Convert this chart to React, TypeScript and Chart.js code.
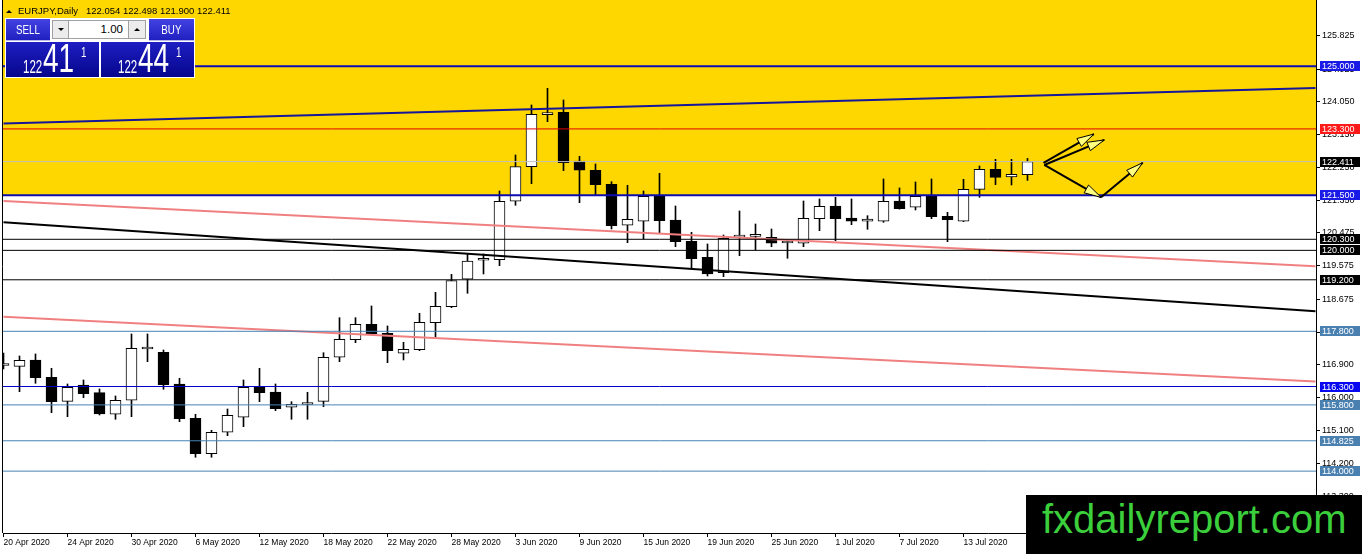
import { useEffect, useRef } from "react";
import { Chart, registerables } from "chart.js";

Chart.register(...registerables);

// ---------------- data ----------------
const openP = [
  116.87, 116.849, 117.021, 116.551, 115.898, 116.341, 116.132, 115.545, 115.926, 117.32,
  117.23, 116.368, 115.436, 114.474, 115.056, 115.464, 116.279, 116.151, 115.735, 115.81,
  115.898, 117.094, 117.572, 117.991, 117.746, 117.203, 117.301, 118.034, 118.469, 119.214,
  119.73, 119.746, 121.333, 122.273, 123.69, 123.752, 122.428, 122.176, 121.795, 120.681,
  120.79, 121.477, 120.825, 120.246, 119.811, 119.393, 120.36, 120.38, 120.355, 120.2,
  120.192, 120.86, 121.205, 120.879, 120.79, 120.79, 121.341, 121.17, 121.469, 120.926,
  120.79, 121.659, 122.203, 121.993, 122.054,
];
const highP = [
  117.211, 117.129, 117.184, 116.795, 116.368, 116.477, 116.233, 116.042, 117.727, 117.727,
  117.292, 116.523, 115.545, 115.11, 115.689, 116.477, 116.795, 116.368, 115.887, 116.143,
  117.219, 118.17, 118.17, 118.488, 117.945, 117.502, 118.29, 118.86, 119.349, 119.901,
  119.901, 121.613, 122.591, 123.95, 124.404, 124.086, 122.556, 122.347, 121.866, 121.768,
  121.613, 122.094, 121.205, 120.491, 120.173, 120.417, 121.07, 120.716, 120.58, 120.282,
  121.341, 121.396, 121.442, 121.396, 120.942, 121.939, 121.695, 121.858, 121.939, 121.034,
  121.931, 122.292, 122.474, 122.474, 122.498,
];
const lowP = [
  116.776, 116.159, 116.387, 115.589, 115.48, 115.996, 115.526, 115.409, 115.48, 116.974,
  116.224, 115.344, 114.377, 114.377, 114.964, 115.208, 115.887, 115.643, 115.409, 115.409,
  115.752, 116.974, 117.491, 117.735, 116.947, 117.021, 117.273, 117.654, 118.442, 118.833,
  119.358, 119.583, 121.224, 121.811, 123.496, 122.165, 121.295, 121.512, 120.58, 120.208,
  120.309, 120.48, 120.099, 119.512, 119.303, 119.284, 119.855, 120.01, 120.099, 119.784,
  120.099, 120.534, 120.262, 120.697, 120.572, 120.762, 121.12, 121.097, 120.86, 120.235,
  120.78, 121.442, 121.784, 121.776, 121.9,
];
const closeP = [
  116.89, 117.012, 116.54, 115.887, 116.279, 116.105, 115.553, 115.926, 117.339, 117.335,
  116.349, 115.426, 114.474, 115.056, 115.518, 116.279, 116.132, 115.697, 115.817, 115.82,
  117.094, 117.583, 117.991, 117.735, 117.273, 117.311, 118.045, 118.48, 119.176, 119.711,
  119.745, 121.333, 122.273, 123.697, 123.7, 122.382, 122.176, 121.784, 120.67, 120.844,
  121.469, 120.806, 120.235, 119.773, 119.358, 120.328, 120.38, 120.4, 120.192, 120.21,
  120.871, 121.197, 120.86, 120.79, 120.852, 121.333, 121.132, 121.469, 120.915, 120.833,
  121.659, 122.203, 121.985, 122.067, 122.411,
];

const dateTickIdx = [0, 4, 8, 12, 16, 20, 24, 28, 32, 36, 40, 44, 48, 52, 56, 60, 64];
const dateTickLabels = [
  "20 Apr 2020", "24 Apr 2020", "30 Apr 2020", "6 May 2020", "12 May 2020", "18 May 2020",
  "22 May 2020", "28 May 2020", "3 Jun 2020", "9 Jun 2020", "15 Jun 2020", "19 Jun 2020",
  "25 Jun 2020", "1 Jul 2020", "7 Jul 2020", "13 Jul 2020", "17 Jul 2020",
];
const priceTicks = [
  125.825, 124.925, 124.05, 123.15, 122.25, 121.35, 120.475, 119.575, 118.675, 117.775,
  116.9, 116.0, 115.1, 114.2, 113.3,
];

const levelPrices = [125.0, 123.3, 122.411, 121.5, 120.3, 120.0, 119.2, 117.8, 116.3, 115.8, 114.825, 114.0];
const levelKinds = ["blueBold", "red", "bid", "blueBold", "black", "black", "black", "steel", "blue", "steel", "steel", "steel"];

const trendKinds = ["channel", "trend", "pink", "pink"];
const trendX0 = [0, 0, 0, 0];
const trendY0 = [123.45, 120.762, 121.341, 118.195];
const trendX1 = [82, 82, 82, 82];
const trendY1 = [124.412, 118.347, 119.57, 116.436];

const arrowX0 = [65.0, 65.05, 65.05, 68.6];
const arrowY0 = [122.38, 122.32, 122.32, 121.44];
const arrowX1 = [68.15, 68.8, 68.6, 71.2];
const arrowY1 = [123.16, 123.0, 121.44, 122.38];

const zoneLow = 121.5;
const zoneHigh = 127.5;

const symbolTitle = "EURJPY,Daily";
const titleOHLC = "122.054 122.498 121.900 122.411";
const lotSize = "1.00";
const sellQuote = ["122", "41", "1"];
const buyQuote = ["122", "44", "1"];
const watermark = "fxdailyreport.com";

// ---------------- styles ----------------
const FONT = '"Liberation Sans", Arial, sans-serif';
const X_MIN = -1 / 32;
const X_MAX = 1313 / 16 - 1 / 32;
const Y_MAX = 126.803;
const Y_MIN = 112.319;

const levelStyle: Record<string, { line: string; width: number; label: string }> = {
  blueBold: { line: "#0c0cb0", width: 2, label: "#1a1ae6" },
  blue: { line: "#0000c8", width: 1, label: "#0808f0" },
  red: { line: "#e00000", width: 1, label: "#ff1a1a" },
  bid: { line: "#c0c0c0", width: 1, label: "#000000" },
  black: { line: "#000000", width: 1, label: "#000000" },
  steel: { line: "#4682b4", width: 1, label: "#4a80b0" },
};
const trendStyle: Record<string, { color: string; width: number }> = {
  channel: { color: "#16169a", width: 2 },
  trend: { color: "#000000", width: 2 },
  pink: { color: "#f08080", width: 2 },
};

const overlayPlugin = {
  id: "overlay",
  afterDatasetsDraw(chart: any) {
    const { ctx, scales } = chart;
    const xs = scales.x;
    const ys = scales.y;
    ctx.save();
    for (let k = 0; k < arrowX0.length; k++) {
      const sx = xs.getPixelForValue(arrowX0[k]);
      const sy = ys.getPixelForValue(arrowY0[k]);
      const ex = xs.getPixelForValue(arrowX1[k]);
      const ey = ys.getPixelForValue(arrowY1[k]);
      const len = Math.hypot(ex - sx, ey - sy) || 1;
      const ux = (ex - sx) / len;
      const uy = (ey - sy) / len;
      const L = 17;
      const W = 4.5;
      const bx = ex - ux * L;
      const by = ey - uy * L;
      ctx.beginPath();
      ctx.moveTo(ex, ey);
      ctx.lineTo(bx - uy * W, by + ux * W);
      ctx.lineTo(bx + uy * W, by - ux * W);
      ctx.closePath();
      ctx.fillStyle = "#ffff80";
      ctx.fill();
      ctx.strokeStyle = "#000";
      ctx.lineWidth = 1;
      ctx.stroke();
    }
    ctx.restore();
  },
  afterDraw(chart: any) {
    const { ctx, chartArea, scales } = chart;
    const ys = scales.y;
    ctx.save();
    ctx.strokeStyle = "#000";
    ctx.lineWidth = 1;
    ctx.beginPath();
    ctx.moveTo(chartArea.left - 0.5, chartArea.top);
    ctx.lineTo(chartArea.left - 0.5, chartArea.bottom);
    ctx.stroke();
    ctx.font = `9px ${FONT}`;
    ctx.textBaseline = "middle";
    ctx.textAlign = "left";
    levelPrices.forEach((p, k) => {
      const st = levelStyle[levelKinds[k]];
      const py = Math.round(ys.getPixelForValue(p));
      ctx.fillStyle = st.label;
      ctx.fillRect(chartArea.right + 4, py - 5, 40, 10);
      ctx.fillStyle = "#fff";
      ctx.fillText(p.toFixed(3), chartArea.right + 6, py + 0.5);
    });
    ctx.restore();
  },
};

function buildConfig(): any {
  const idx = openP.map((_, i) => i);
  const datasets: any[] = [];
  datasets.push({
    type: "line",
    data: [
      { x: X_MIN - 1, y: zoneHigh },
      { x: X_MAX + 1, y: zoneHigh },
    ],
    borderWidth: 0,
    pointRadius: 0,
    backgroundColor: "#ffd700",
    fill: { value: zoneLow },
    order: 10,
  });
  datasets.push({
    type: "bar",
    data: idx.map((i) => ({ x: i, y: [lowP[i], highP[i]] })),
    backgroundColor: "#000",
    borderWidth: 0,
    barThickness: 1,
    grouped: false,
    order: 5,
  });
  datasets.push({
    type: "bar",
    data: idx.map((i) => ({ x: i, y: [openP[i], closeP[i]] })),
    backgroundColor: idx.map((i) => (closeP[i] >= openP[i] ? "#ffffff" : "#000000")),
    borderColor: "#000",
    borderWidth: 1,
    borderSkipped: false,
    barThickness: 11,
    minBarLength: 2,
    grouped: false,
    order: 4,
  });
  trendKinds.forEach((kind, k) => {
    datasets.push({
      type: "line",
      data: [
        { x: trendX0[k], y: trendY0[k] },
        { x: trendX1[k], y: trendY1[k] },
      ],
      borderColor: trendStyle[kind].color,
      borderWidth: trendStyle[kind].width,
      pointRadius: 0,
      fill: false,
      order: 3,
    });
  });
  levelPrices.forEach((p, k) => {
    const st = levelStyle[levelKinds[k]];
    datasets.push({
      type: "line",
      data: [
        { x: X_MIN, y: p },
        { x: X_MAX, y: p },
      ],
      borderColor: st.line,
      borderWidth: st.width,
      pointRadius: 0,
      fill: false,
      order: 2,
    });
  });
  arrowX0.forEach((_, k) => {
    datasets.push({
      type: "line",
      data: [
        { x: arrowX0[k], y: arrowY0[k] },
        { x: arrowX1[k], y: arrowY1[k] },
      ],
      borderColor: "#000",
      borderWidth: 2,
      pointRadius: 0,
      fill: false,
      order: 1,
    });
  });

  return {
    type: "bar",
    data: { datasets },
    plugins: [overlayPlugin],
    options: {
      animation: false,
      responsive: false,
      events: [],
      layout: { padding: { left: 3, right: 0, top: 0, bottom: 0 } },
      plugins: { legend: { display: false }, tooltip: { enabled: false } },
      scales: {
        x: {
          type: "linear",
          min: X_MIN,
          max: X_MAX,
          offset: false,
          grid: { drawOnChartArea: false, drawTicks: true, tickLength: 4, color: "#000", offset: false },
          border: { display: true, color: "#000", width: 1 },
          ticks: {
            autoSkip: false,
            maxRotation: 0,
            minRotation: 0,
            align: "start",
            padding: 1,
            color: "#000",
            font: { family: FONT, size: 8.5 },
            callback: (v: any) => {
              const k = dateTickIdx.indexOf(Number(v));
              return k >= 0 ? dateTickLabels[k] : "";
            },
          },
          afterBuildTicks: (s: any) => {
            s.ticks = dateTickIdx.map((v) => ({ value: v }));
          },
          afterFit: (s: any) => {
            s.height = 21;
            s.paddingLeft = 0;
            s.paddingRight = 0;
          },
        },
        y: {
          type: "linear",
          position: "right",
          min: Y_MIN,
          max: Y_MAX,
          grid: { drawOnChartArea: false, drawTicks: true, tickLength: 4, color: "#000" },
          border: { display: true, color: "#000", width: 1 },
          ticks: {
            padding: 2,
            color: "#000",
            font: { family: FONT, size: 9 },
            callback: (v: any) => Number(v).toFixed(3),
          },
          afterBuildTicks: (s: any) => {
            s.ticks = priceTicks.map((v) => ({ value: v }));
          },
          afterFit: (s: any) => {
            s.width = 46;
            s.paddingTop = 0;
            s.paddingBottom = 0;
          },
        },
      },
    },
  };
}

function Tri({ up, left, top }: { up: boolean; left: number; top: number }) {
  return (
    <div
      style={{
        position: "absolute",
        left,
        top,
        width: 0,
        height: 0,
        borderLeft: "3px solid transparent",
        borderRight: "3px solid transparent",
        ...(up ? { borderBottom: "3px solid #000" } : { borderTop: "3px solid #000" }),
      }}
    />
  );
}

function QuoteBox({ left, q }: { left: number; q: string[] }) {
  return (
    <div
      style={{
        position: "absolute",
        left,
        top: 42,
        width: 93,
        height: 35,
        background: "linear-gradient(#1e1ec4, #06068c)",
        color: "#fff",
        overflow: "hidden",
      }}
    >
      <div style={{ position: "absolute", left: 17, top: 15.8, fontSize: 18, lineHeight: "18px", transform: "scaleX(0.64)", transformOrigin: "left top", whiteSpace: "nowrap" }}>{q[0]}</div>
      <div style={{ position: "absolute", left: 37, top: -3.9, fontSize: 40, lineHeight: "40px", transform: "scaleX(0.7)", transformOrigin: "left top", whiteSpace: "nowrap" }}>{q[1]}</div>
      <div style={{ position: "absolute", left: 75, top: 3, fontSize: 14, lineHeight: "14px", transform: "scaleX(0.7)", transformOrigin: "left top" }}>{q[2]}</div>
    </div>
  );
}

function TradeButton({ left, width, label }: { left: number; width: number; label: string }) {
  return (
    <div
      style={{
        position: "absolute",
        left,
        top: 19,
        width,
        height: 22,
        background: "linear-gradient(#4343e4, #2020c0)",
        color: "#fff",
        display: "flex",
        alignItems: "center",
        justifyContent: "center",
        fontSize: 13,
        boxSizing: "border-box",
        borderBottom: "1px solid #b8b8e8",
      }}
    >
      <span style={{ display: "inline-block", transform: "scaleX(0.75)" }}>{label}</span>
    </div>
  );
}

export default function App() {
  const ref = useRef<HTMLCanvasElement | null>(null);
  useEffect(() => {
    if (!ref.current) return;
    const chart = new Chart(ref.current, buildConfig());
    return () => chart.destroy();
  }, []);
  return (
    <div style={{ position: "absolute", left: 0, top: 0, width: 1362, height: 554, background: "#fff", overflow: "hidden", fontFamily: FONT }}>
      <canvas ref={ref} width={1362} height={554} style={{ position: "absolute", left: 0, top: 0 }} />
      {/* title */}
      <Tri up={true} left={6} top={10} />
      <div style={{ position: "absolute", left: 18, top: 6, fontSize: 9.5, lineHeight: "9.5px", whiteSpace: "pre", color: "#000" }}>
        {symbolTitle}
        <span style={{ marginLeft: 8 }}>{titleOHLC}</span>
      </div>
      {/* one-click panel */}
      <div style={{ position: "absolute", left: 5, top: 18, width: 190, height: 60, background: "#fff" }} />
      <TradeButton left={6} width={44} label="SELL" />
      <div style={{ position: "absolute", left: 52, top: 20, width: 17, height: 19, background: "#ececec", border: "1px solid #a0a0a0", boxSizing: "border-box" }}>
        <Tri up={false} left={4.5} top={7} />
      </div>
      <div style={{ position: "absolute", left: 69, top: 20, width: 59, height: 19, background: "#fff", borderTop: "1px solid #a0a0a0", borderBottom: "1px solid #a0a0a0", boxSizing: "border-box", fontSize: 11.5, lineHeight: "17px", textAlign: "right", paddingRight: 5, color: "#000" }}>
        {lotSize}
      </div>
      <div style={{ position: "absolute", left: 128, top: 20, width: 18, height: 19, background: "#ececec", border: "1px solid #a0a0a0", boxSizing: "border-box" }}>
        <Tri up={true} left={5} top={7} />
      </div>
      <TradeButton left={149} width={45} label="BUY" />
      <QuoteBox left={6} q={sellQuote} />
      <QuoteBox left={101} q={buyQuote} />
      {/* watermark */}
      <div style={{ position: "absolute", left: 1026, top: 495, width: 336, height: 59, background: "#000" }}>
        <div style={{ position: "absolute", left: 16, top: 4.1, fontSize: 40, lineHeight: "40px", color: "#3ccf3c", whiteSpace: "nowrap", fontFamily: FONT }}>
          {watermark}
        </div>
      </div>
    </div>
  );
}
